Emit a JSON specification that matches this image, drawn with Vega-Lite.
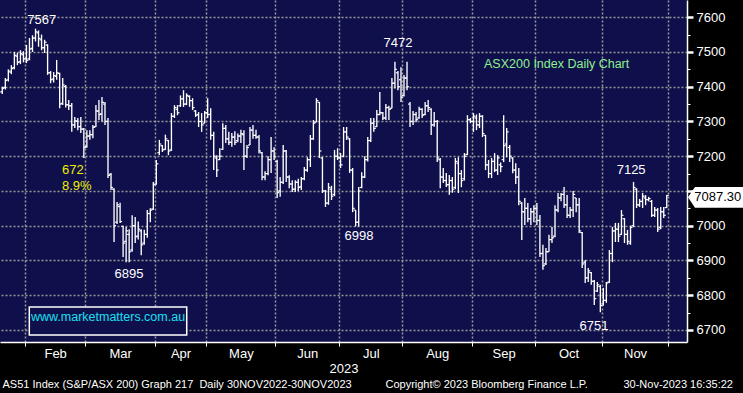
{
"$schema": "https://vega.github.io/schema/vega-lite/v6.json",
"width": 687, "height": 342,
"autosize": {"type": "none"},
"padding": {"left": 0, "top": 0, "right": 56, "bottom": 51},
"background": "#000000",
"config": {"view": {"fill": "#0f0f4b", "stroke": null}, "font": "Liberation Sans", "axis": {"labelFont": "Liberation Sans", "titleFont": "Liberation Sans"}},
"datasets": {
"bars": [
{"i":0,"o":7385,"h":7400,"l":7379,"c":7395},{"i":1,"o":7398,"h":7425,"l":7392,"c":7418},{"i":2,"o":7420,"h":7450,"l":7415,"c":7445},{"i":3,"o":7442,"h":7462,"l":7436,"c":7452},{"i":4,"o":7455,"h":7500,"l":7450,"c":7490},{"i":5,"o":7488,"h":7498,"l":7462,"c":7470},{"i":6,"o":7472,"h":7505,"l":7465,"c":7495},{"i":7,"o":7492,"h":7502,"l":7470,"c":7480},{"i":8,"o":7480,"h":7520,"l":7468,"c":7476},{"i":9,"o":7480,"h":7540,"l":7476,"c":7508},
{"i":10,"o":7510,"h":7548,"l":7500,"c":7540},{"i":11,"o":7540,"h":7567,"l":7530,"c":7558},{"i":12,"o":7555,"h":7562,"l":7515,"c":7539},{"i":13,"o":7535,"h":7550,"l":7505,"c":7512},{"i":14,"o":7512,"h":7535,"l":7497,"c":7528},{"i":15,"o":7520,"h":7522,"l":7434,"c":7440},{"i":16,"o":7440,"h":7445,"l":7410,"c":7420},{"i":17,"o":7422,"h":7442,"l":7412,"c":7432},{"i":18,"o":7430,"h":7477,"l":7420,"c":7440},{"i":19,"o":7438,"h":7440,"l":7338,"c":7350},
{"i":20,"o":7352,"h":7425,"l":7347,"c":7405},{"i":21,"o":7400,"h":7405,"l":7340,"c":7348},{"i":22,"o":7348,"h":7362,"l":7333,"c":7345},{"i":23,"o":7345,"h":7353,"l":7270,"c":7290},{"i":24,"o":7290,"h":7313,"l":7281,"c":7302},{"i":25,"o":7300,"h":7310,"l":7275,"c":7285},{"i":26,"o":7285,"h":7313,"l":7267,"c":7278},{"i":27,"o":7278,"h":7281,"l":7195,"c":7225},{"i":28,"o":7228,"h":7275,"l":7224,"c":7258},{"i":29,"o":7258,"h":7275,"l":7247,"c":7262},
{"i":30,"o":7262,"h":7290,"l":7252,"c":7283},{"i":31,"o":7285,"h":7347,"l":7284,"c":7330},{"i":32,"o":7330,"h":7362,"l":7304,"c":7320},{"i":33,"o":7322,"h":7370,"l":7300,"c":7355},{"i":34,"o":7350,"h":7356,"l":7290,"c":7300},{"i":35,"o":7300,"h":7310,"l":7137,"c":7145},{"i":36,"o":7148,"h":7152,"l":7103,"c":7110},{"i":37,"o":7105,"h":7108,"l":6953,"c":7000},{"i":38,"o":7010,"h":7068,"l":7005,"c":7060},{"i":39,"o":7055,"h":7066,"l":7008,"c":7012},
{"i":40,"o":6998,"h":7000,"l":6910,"c":6950},{"i":41,"o":6955,"h":6996,"l":6895,"c":6985},{"i":42,"o":6975,"h":6990,"l":6895,"c":6925},{"i":43,"o":6930,"h":7030,"l":6925,"c":7000},{"i":44,"o":7000,"h":7025,"l":6950,"c":6968},{"i":45,"o":6970,"h":7012,"l":6960,"c":6990},{"i":46,"o":6985,"h":6990,"l":6915,"c":6945},{"i":47,"o":6950,"h":6988,"l":6945,"c":6975},{"i":48,"o":6975,"h":7045,"l":6965,"c":7035},{"i":49,"o":7035,"h":7050,"l":7010,"c":7045},
{"i":50,"o":7048,"h":7126,"l":7045,"c":7118},{"i":51,"o":7120,"h":7189,"l":7118,"c":7178},{"i":52,"o":7210,"h":7247,"l":7203,"c":7235},{"i":53,"o":7230,"h":7232,"l":7212,"c":7218},{"i":54,"o":7220,"h":7262,"l":7218,"c":7250},{"i":55,"o":7245,"h":7247,"l":7203,"c":7215},{"i":56,"o":7218,"h":7324,"l":7215,"c":7315},{"i":57,"o":7315,"h":7347,"l":7310,"c":7340},{"i":58,"o":7335,"h":7347,"l":7318,"c":7325},{"i":59,"o":7345,"h":7375,"l":7342,"c":7365},
{"i":60,"o":7365,"h":7390,"l":7342,"c":7350},{"i":61,"o":7350,"h":7381,"l":7347,"c":7375},{"i":62,"o":7372,"h":7375,"l":7342,"c":7360},{"i":63,"o":7360,"h":7367,"l":7333,"c":7340},{"i":64,"o":7330,"h":7333,"l":7313,"c":7318},{"i":65,"o":7320,"h":7327,"l":7284,"c":7300},{"i":66,"o":7300,"h":7324,"l":7270,"c":7290},{"i":67,"o":7295,"h":7330,"l":7295,"c":7325},{"i":68,"o":7325,"h":7367,"l":7310,"c":7320},{"i":69,"o":7320,"h":7338,"l":7247,"c":7260},
{"i":70,"o":7260,"h":7270,"l":7160,"c":7200},{"i":71,"o":7195,"h":7203,"l":7140,"c":7160},{"i":72,"o":7190,"h":7223,"l":7189,"c":7200},{"i":73,"o":7220,"h":7295,"l":7218,"c":7280},{"i":74,"o":7280,"h":7290,"l":7238,"c":7250},{"i":75,"o":7250,"h":7270,"l":7232,"c":7240},{"i":76,"o":7240,"h":7267,"l":7227,"c":7255},{"i":77,"o":7255,"h":7272,"l":7232,"c":7240},{"i":78,"o":7245,"h":7265,"l":7240,"c":7258},{"i":79,"o":7258,"h":7276,"l":7238,"c":7265},
{"i":80,"o":7262,"h":7275,"l":7160,"c":7200},{"i":81,"o":7200,"h":7232,"l":7195,"c":7225},{"i":82,"o":7232,"h":7284,"l":7232,"c":7275},{"i":83,"o":7275,"h":7290,"l":7250,"c":7260},{"i":84,"o":7260,"h":7276,"l":7250,"c":7255},{"i":85,"o":7255,"h":7261,"l":7208,"c":7215},{"i":86,"o":7210,"h":7212,"l":7131,"c":7140},{"i":87,"o":7140,"h":7157,"l":7131,"c":7150},{"i":88,"o":7150,"h":7200,"l":7145,"c":7190},{"i":89,"o":7190,"h":7255,"l":7152,"c":7215},
{"i":90,"o":7215,"h":7226,"l":7189,"c":7200},{"i":91,"o":7185,"h":7190,"l":7080,"c":7095},{"i":92,"o":7100,"h":7140,"l":7083,"c":7125},{"i":93,"o":7125,"h":7232,"l":7120,"c":7215},{"i":94,"o":7215,"h":7218,"l":7126,"c":7140},{"i":95,"o":7140,"h":7145,"l":7108,"c":7120},{"i":96,"o":7120,"h":7131,"l":7097,"c":7105},{"i":97,"o":7105,"h":7131,"l":7097,"c":7125},{"i":98,"o":7125,"h":7135,"l":7100,"c":7110},{"i":99,"o":7112,"h":7140,"l":7103,"c":7135},
{"i":100,"o":7135,"h":7169,"l":7131,"c":7160},{"i":101,"o":7160,"h":7197,"l":7155,"c":7190},{"i":102,"o":7190,"h":7261,"l":7169,"c":7250},{"i":103,"o":7250,"h":7304,"l":7247,"c":7295},{"i":104,"o":7298,"h":7367,"l":7298,"c":7360},{"i":105,"o":7355,"h":7356,"l":7195,"c":7215},{"i":106,"o":7195,"h":7197,"l":7094,"c":7100},{"i":107,"o":7100,"h":7103,"l":7054,"c":7065},{"i":108,"o":7065,"h":7123,"l":7060,"c":7110},{"i":109,"o":7105,"h":7115,"l":7074,"c":7085},
{"i":110,"o":7090,"h":7218,"l":7085,"c":7200},{"i":111,"o":7200,"h":7223,"l":7189,"c":7195},{"i":112,"o":7195,"h":7209,"l":7166,"c":7175},{"i":113,"o":7200,"h":7284,"l":7197,"c":7270},{"i":114,"o":7270,"h":7284,"l":7247,"c":7255},{"i":115,"o":7250,"h":7252,"l":7152,"c":7160},{"i":116,"o":7160,"h":7166,"l":7039,"c":7050},{"i":117,"o":7045,"h":7045,"l":6998,"c":7010},{"i":118,"o":7010,"h":7111,"l":6998,"c":7100},{"i":119,"o":7110,"h":7154,"l":7108,"c":7140},
{"i":120,"o":7140,"h":7200,"l":7137,"c":7190},{"i":121,"o":7190,"h":7255,"l":7185,"c":7245},{"i":122,"o":7245,"h":7310,"l":7241,"c":7295},{"i":123,"o":7295,"h":7310,"l":7270,"c":7280},{"i":124,"o":7285,"h":7333,"l":7284,"c":7320},{"i":125,"o":7320,"h":7385,"l":7318,"c":7325},{"i":126,"o":7325,"h":7327,"l":7304,"c":7310},{"i":127,"o":7310,"h":7350,"l":7304,"c":7340},{"i":128,"o":7340,"h":7345,"l":7304,"c":7335},{"i":129,"o":7338,"h":7425,"l":7338,"c":7410},
{"i":130,"o":7410,"h":7472,"l":7395,"c":7450},{"i":131,"o":7440,"h":7445,"l":7390,"c":7400},{"i":132,"o":7420,"h":7456,"l":7356,"c":7370},{"i":133,"o":7375,"h":7434,"l":7372,"c":7425},{"i":134,"o":7425,"h":7472,"l":7390,"c":7400},{"i":135,"o":7350,"h":7356,"l":7284,"c":7300},{"i":136,"o":7300,"h":7330,"l":7290,"c":7320},{"i":137,"o":7320,"h":7327,"l":7298,"c":7305},{"i":138,"o":7310,"h":7342,"l":7308,"c":7335},{"i":139,"o":7335,"h":7338,"l":7310,"c":7318},
{"i":140,"o":7320,"h":7356,"l":7318,"c":7345},{"i":141,"o":7345,"h":7362,"l":7327,"c":7340},{"i":142,"o":7335,"h":7338,"l":7261,"c":7290},{"i":143,"o":7290,"h":7327,"l":7285,"c":7300},{"i":144,"o":7300,"h":7304,"l":7183,"c":7195},{"i":145,"o":7190,"h":7195,"l":7108,"c":7140},{"i":146,"o":7140,"h":7166,"l":7123,"c":7130},{"i":147,"o":7130,"h":7152,"l":7111,"c":7118},{"i":148,"o":7118,"h":7146,"l":7089,"c":7130},{"i":149,"o":7130,"h":7140,"l":7095,"c":7105},
{"i":150,"o":7110,"h":7195,"l":7105,"c":7185},{"i":151,"o":7180,"h":7197,"l":7094,"c":7150},{"i":152,"o":7150,"h":7160,"l":7111,"c":7130},{"i":153,"o":7135,"h":7209,"l":7130,"c":7200},{"i":154,"o":7205,"h":7318,"l":7203,"c":7305},{"i":155,"o":7305,"h":7310,"l":7295,"c":7300},{"i":156,"o":7300,"h":7324,"l":7270,"c":7315},{"i":157,"o":7310,"h":7320,"l":7275,"c":7290},{"i":158,"o":7290,"h":7324,"l":7281,"c":7315},{"i":159,"o":7315,"h":7318,"l":7255,"c":7265},
{"i":160,"o":7260,"h":7261,"l":7160,"c":7175},{"i":161,"o":7175,"h":7189,"l":7137,"c":7150},{"i":162,"o":7150,"h":7195,"l":7137,"c":7185},{"i":163,"o":7185,"h":7209,"l":7154,"c":7160},{"i":164,"o":7160,"h":7203,"l":7146,"c":7195},{"i":165,"o":7175,"h":7182,"l":7154,"c":7170},{"i":166,"o":7190,"h":7318,"l":7183,"c":7230},{"i":167,"o":7235,"h":7281,"l":7197,"c":7270},{"i":168,"o":7225,"h":7232,"l":7183,"c":7200},{"i":169,"o":7195,"h":7197,"l":7151,"c":7160},
{"i":170,"o":7160,"h":7180,"l":7120,"c":7140},{"i":171,"o":7140,"h":7166,"l":7059,"c":7070},{"i":172,"o":7065,"h":7068,"l":6959,"c":7040},{"i":173,"o":7040,"h":7080,"l":7002,"c":7050},{"i":174,"o":7050,"h":7065,"l":7010,"c":7020},{"i":175,"o":7020,"h":7051,"l":7002,"c":7040},{"i":176,"o":7040,"h":7059,"l":7010,"c":7050},{"i":177,"o":7050,"h":7065,"l":7002,"c":7015},{"i":178,"o":7015,"h":7031,"l":6910,"c":6920},{"i":179,"o":6920,"h":6945,"l":6873,"c":6885},
{"i":180,"o":6890,"h":6936,"l":6887,"c":6925},{"i":181,"o":6925,"h":6974,"l":6925,"c":6960},{"i":182,"o":6960,"h":6996,"l":6950,"c":6965},{"i":183,"o":6970,"h":7059,"l":6967,"c":7045},{"i":184,"o":7045,"h":7094,"l":7039,"c":7080},{"i":185,"o":7080,"h":7094,"l":7070,"c":7090},{"i":186,"o":7090,"h":7111,"l":7051,"c":7060},{"i":187,"o":7060,"h":7088,"l":7022,"c":7030},{"i":188,"o":7030,"h":7054,"l":7022,"c":7045},{"i":189,"o":7045,"h":7100,"l":7025,"c":7090},
{"i":190,"o":7080,"h":7080,"l":7039,"c":7060},{"i":191,"o":7060,"h":7080,"l":6979,"c":6985},{"i":192,"o":6980,"h":6982,"l":6878,"c":6890},{"i":193,"o":6895,"h":6901,"l":6835,"c":6850},{"i":194,"o":6850,"h":6878,"l":6838,"c":6870},{"i":195,"o":6865,"h":6867,"l":6830,"c":6840},{"i":196,"o":6840,"h":6844,"l":6772,"c":6790},{"i":197,"o":6812,"h":6838,"l":6809,"c":6830},{"i":198,"o":6825,"h":6830,"l":6751,"c":6770},{"i":199,"o":6775,"h":6821,"l":6770,"c":6785},
{"i":200,"o":6785,"h":6838,"l":6778,"c":6835},{"i":201,"o":6838,"h":6930,"l":6835,"c":6920},{"i":202,"o":6920,"h":6996,"l":6895,"c":6985},{"i":203,"o":6985,"h":7008,"l":6953,"c":6990},{"i":204,"o":6990,"h":7008,"l":6953,"c":6970},{"i":205,"o":6975,"h":7045,"l":6973,"c":7030},{"i":206,"o":7020,"h":7022,"l":6950,"c":6975},{"i":207,"o":6975,"h":6988,"l":6945,"c":6955},{"i":208,"o":6950,"h":7000,"l":6945,"c":6995},{"i":209,"o":7000,"h":7126,"l":6996,"c":7110},
{"i":210,"o":7105,"h":7108,"l":7051,"c":7060},{"i":211,"o":7060,"h":7077,"l":7054,"c":7070},{"i":212,"o":7070,"h":7094,"l":7051,"c":7085},{"i":213,"o":7080,"h":7088,"l":7059,"c":7075},{"i":214,"o":7075,"h":7083,"l":7070,"c":7078},{"i":215,"o":7070,"h":7074,"l":7025,"c":7030},{"i":216,"o":7030,"h":7054,"l":7025,"c":7045},{"i":217,"o":7045,"h":7051,"l":6982,"c":6990},{"i":218,"o":6995,"h":7054,"l":6990,"c":7040},{"i":219,"o":7040,"h":7054,"l":7022,"c":7030},
{"i":220,"o":7052,"h":7088,"l":7051,"c":7087.3}
],
"peaks": [
{"label":"7567","i":13.05,"v":7593},{"label":"7472","i":131,"v":7526},{"label":"6998","i":118.1,"v":6969},{"label":"6895","i":41.95,"v":6860},{"label":"6751","i":195.9,"v":6710},{"label":"7125","i":208.2,"v":7159}
],
"drop": [{"label":"672","i":19.77,"v":7159},{"label":"8.9%","i":19.77,"v":7113}],
"title": [{"label":"ASX200 Index Daily Chart","i":159.5,"v":7465}],
"site": [{"label":"www.marketmatters.com.au","i":35,"v":6737}],
"sitebox": [{"i1":8.94,"i2":61.06,"v1":6685.5,"v2":6766}],
"last": [{"label":"7087.30","i":236.3,"ti":236.9,"v":7087.3}]
},
"layer": [
{"data": {"name": "bars"}, "mark": {"type": "rule", "color": "#ffffff", "strokeWidth": 1.35},
 "encoding": {
  "x": {"field": "i", "type": "quantitative", "scale": {"domain": [-0.76, 226.7], "nice": false, "zero": false},
   "axis": {"orient": "bottom", "values": [7.5, 27.5, 50.5, 67.5, 90.4, 111.5, 132.5, 155.5, 176.4, 198.5, 220.5], "labels": false, "ticks": true, "tickColor": "#ffffff", "tickSize": 4, "tickWidth": 1, "domain": true, "domainColor": "#ffffff", "domainWidth": 1.5, "grid": true, "gridColor": "#9a9a9a", "gridDash": [2, 2], "gridWidth": 1.5, "title": null}},
  "y": {"field": "l", "type": "quantitative", "scale": {"domain": [6665.3, 7649.5], "nice": false, "zero": false},
   "axis": {"orient": "right", "values": [6700, 6800, 6900, 7000, 7100, 7200, 7300, 7400, 7500, 7600], "format": "d", "labelExpr": "datum.value == 7100 ? '' : datum.label", "labelColor": "#ffffff", "labelFontSize": 13, "labelPadding": 3, "labelFlush": false, "tickColor": "#ffffff", "tickSize": 6, "tickWidth": 2.5, "domain": true, "domainColor": "#ffffff", "domainWidth": 1.5, "grid": true, "gridColor": "#9a9a9a", "gridDash": [2, 2], "gridWidth": 1.5, "title": null}},
  "y2": {"field": "h"}
 }},
{"data": {"name": "bars"}, "mark": {"type": "tick", "orient": "horizontal", "color": "#ffffff", "size": 2, "thickness": 1.2, "xOffset": -1, "opacity": 1},
 "encoding": {
  "x": {"field": "i", "type": "quantitative",
   "axis": {"orient": "bottom", "values": [17.5, 39, 59, 79, 101, 122, 144, 166, 187.5, 209.5], "labelExpr": "datum.value < 20 ? 'Feb' : datum.value < 50 ? 'Mar' : datum.value < 70 ? 'Apr' : datum.value < 90 ? 'May' : datum.value < 110 ? 'Jun' : datum.value < 130 ? 'Jul' : datum.value < 150 ? 'Aug' : datum.value < 170 ? 'Sep' : datum.value < 200 ? 'Oct' : 'Nov'", "ticks": false, "domain": false, "grid": false, "labelColor": "#ffffff", "labelFontSize": 13, "labelPadding": 5, "labelFlush": false, "labelOverlap": false, "title": "2023", "titleColor": "#ffffff", "titleFontSize": 13, "titleFontWeight": "normal", "titlePadding": 2}},
  "y": {"field": "o", "type": "quantitative",
   "axis": {"orient": "right", "values": [6750, 6850, 6950, 7050, 7150, 7250, 7350, 7450, 7550], "labels": false, "tickColor": "#ffffff", "tickSize": 3, "tickWidth": 1, "domain": false, "grid": false, "title": null}}
 }},
{"data": {"name": "bars"}, "mark": {"type": "tick", "orient": "horizontal", "color": "#ffffff", "size": 2, "thickness": 1.2, "xOffset": 1, "opacity": 1},
 "encoding": {
  "x": {"field": "i", "type": "quantitative",
   "axis": {"orient": "bottom", "values": [-0.1, 126.7, 205.5], "labelExpr": "datum.value < 50 ? 'AS51 Index (S&P/ASX 200) Graph 217\u00a0 Daily 30NOV2022-30NOV2023' : datum.value < 180 ? 'Copyright\u00a9 2023 Bloomberg Finance L.P.' : '30-Nov-2023 16:35:22'", "labelAlign": "left", "labelFontSize": 11, "labelColor": "#ffffff", "labelPadding": 36, "labelLimit": 1000, "labelOverlap": false, "labelFlush": false, "labelBound": false, "ticks": false, "domain": false, "grid": false, "title": null}},
  "y": {"field": "c", "type": "quantitative", "axis": null}
 }},
{"data": {"name": "peaks"}, "mark": {"type": "text", "color": "#ffffff", "fontSize": 13, "align": "center", "baseline": "middle"},
 "encoding": {"x": {"field": "i", "type": "quantitative", "axis": null}, "y": {"field": "v", "type": "quantitative", "axis": null}, "text": {"field": "label"}}},
{"data": {"name": "drop"}, "mark": {"type": "text", "color": "#eeee00", "fontSize": 13, "align": "left", "baseline": "middle"},
 "encoding": {"x": {"field": "i", "type": "quantitative", "axis": null}, "y": {"field": "v", "type": "quantitative", "axis": null}, "text": {"field": "label"}}},
{"data": {"name": "title"}, "mark": {"type": "text", "color": "#8ef08e", "fontSize": 12.5, "align": "left", "baseline": "middle"},
 "encoding": {"x": {"field": "i", "type": "quantitative", "axis": null}, "y": {"field": "v", "type": "quantitative", "axis": null}, "text": {"field": "label"}}},
{"data": {"name": "sitebox"}, "mark": {"type": "rect", "fill": "#0f0f4b", "stroke": "#ffffff", "strokeWidth": 1.5},
 "encoding": {"x": {"field": "i1", "type": "quantitative", "axis": null}, "x2": {"field": "i2"}, "y": {"field": "v1", "type": "quantitative", "axis": null}, "y2": {"field": "v2"}}},
{"data": {"name": "site"}, "mark": {"type": "text", "color": "#19e0f0", "fontSize": 12.5, "align": "center", "baseline": "middle"},
 "encoding": {"x": {"field": "i", "type": "quantitative", "axis": null}, "y": {"field": "v", "type": "quantitative", "axis": null}, "text": {"field": "label"}}},
{"data": {"name": "last"}, "mark": {"type": "point", "shape": "M-1,0L-0.75,-0.37L1,-0.37L1,0.37L-0.75,0.37Z", "size": 3136, "filled": true, "fill": "#ffffff", "opacity": 1, "strokeWidth": 0, "yOffset": 2},
 "encoding": {"x": {"field": "i", "type": "quantitative", "axis": null}, "y": {"field": "v", "type": "quantitative", "axis": null}}},
{"data": {"name": "last"}, "mark": {"type": "text", "color": "#000000", "fontSize": 13, "align": "center", "baseline": "middle", "yOffset": 2},
 "encoding": {"x": {"field": "ti", "type": "quantitative", "axis": null}, "y": {"field": "v", "type": "quantitative", "axis": null}, "text": {"field": "label"}}}
],
"resolve": {"axis": {"x": "independent", "y": "independent"}}
}
